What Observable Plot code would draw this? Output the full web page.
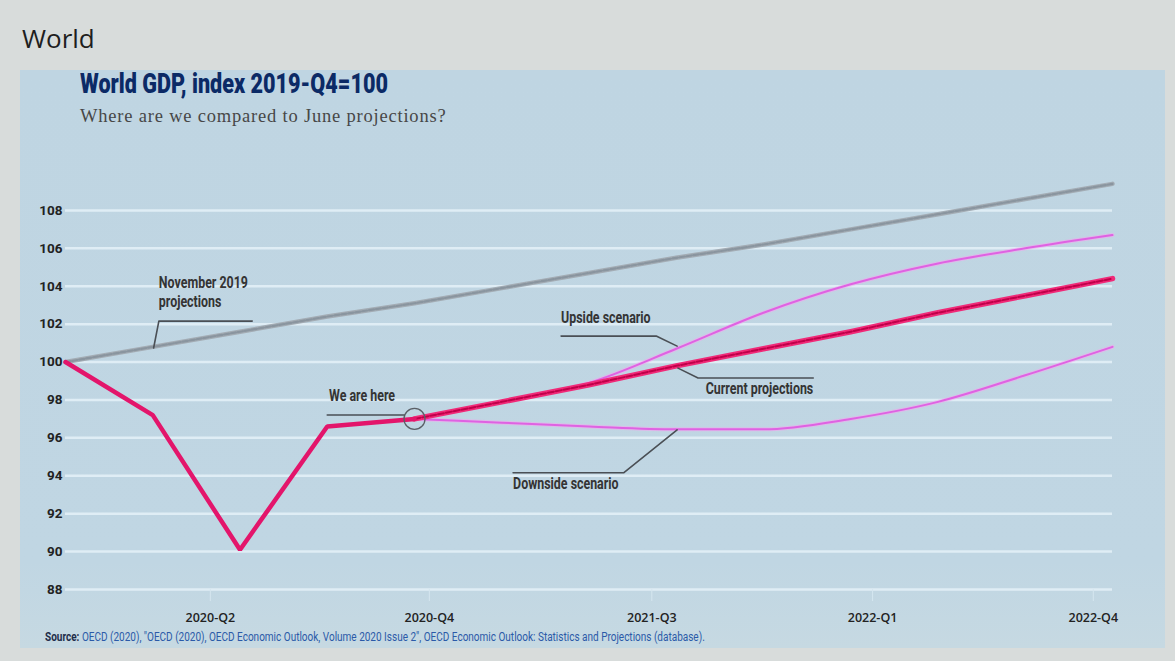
<!DOCTYPE html>
<html><head><meta charset="utf-8">
<script src="https://cdn.jsdelivr.net/npm/d3@7"></script>
<script src="https://cdn.jsdelivr.net/npm/@observablehq/plot@0.6"></script>
<style>
body{margin:0;width:1175px;height:661px;background:#d8dcdb;position:relative;overflow:hidden;font-family:"Open Sans","Noto Sans",sans-serif;}
#world{position:absolute;left:22px;top:20px;font-size:26px;color:#1e1e1e;}
#panel{position:absolute;left:20px;top:70px;width:1145px;height:578px;background:linear-gradient(#bfd5e2 0%,#c0d6e3 85%,#c6d9e2 100%);}
#title{position:absolute;left:80px;top:68px;font-family:"Roboto",sans-serif;font-weight:900;font-size:27px;color:#0b2a66;transform:scaleX(0.8);transform-origin:left center;white-space:nowrap;}
#subtitle{position:absolute;left:80px;top:106px;font-family:"Liberation Serif","DejaVu Serif",serif;font-size:18.5px;letter-spacing:0.8px;color:#474747;white-space:nowrap;}
#chart{position:absolute;left:0;top:150px;}
#source{position:absolute;left:45px;top:629px;font-family:"Roboto",sans-serif;font-size:12.5px;color:#2b5aa8;transform:scaleX(0.8);transform-origin:left center;white-space:nowrap;}
#source b{color:#1e2d4a;font-weight:700;}
</style></head>
<body>
<div id="world">World</div>
<div id="panel"></div>
<div id="title">World GDP, index 2019-Q4=100</div>
<div id="subtitle">Where are we compared to June projections?</div>
<div id="chart"></div>
<div id="source"><b>Source:</b> OECD (2020), "OECD (2020), OECD Economic Outlook, Volume 2020 Issue 2", OECD Economic Outlook: Statistics and Projections (database).</div>
<script>
// Quarters on the x axis (index 0 = 2019-Q4)
const quarters = ["2019-Q4","2020-Q1","2020-Q2","2020-Q3","2020-Q4","2021-Q1","2021-Q2","2021-Q3","2021-Q4","2022-Q1","2022-Q2","2022-Q3","2022-Q4"];
// Observed GDP index
const actualValues = [100, 97.2, 90.1, 96.6, 97.0];
// November 2019 projections (full span)
const nov2019Values = [100, 100.8, 101.6, 102.4, 103.1, 103.9, 104.7, 105.5, 106.2, 107.0, 107.8, 108.6, 109.4];
// Projections from 2020-Q4 onward
const projQuarters = quarters.slice(4);
const currentValues = [97.0, 97.9, 98.8, 99.8, 100.7, 101.6, 102.6, 103.5, 104.4];
const upsideValues = [97.0, 97.9, 98.9, 100.7, 102.6, 104.1, 105.2, 106.0, 106.7];
const downsideValues = [97.0, 96.8, 96.6, 96.45, 96.45, 97.0, 97.9, 99.3, 100.8];
// Axis ticks
const yTicks = [88, 90, 92, 94, 96, 98, 100, 102, 104, 106, 108];
const xTickPos = [1.66, 4.17, 6.72, 9.25, 11.78];
const xTickLabels = ["2020-Q2", "2020-Q4", "2021-Q3", "2022-Q1", "2022-Q4"];
// Annotations (data units: quarter index, index value)
const noteLabels = ["November 2019\nprojections", "We are here", "Upside scenario", "Current projections", "Downside scenario"];
const noteAnchors = [[1.07, 102.16], [3.02, 97.21], [5.68, 101.37], [8.57, 99.16], [5.13, 94.16]];
const leaders = [
  [[1.01, 100.74], [1.07, 102.16], [2.14, 102.16]],
  [[3.0, 97.21], [3.88, 97.21]],
  [[5.68, 101.37], [6.77, 101.37], [7.01, 100.84]],
  [[7.02, 99.68], [7.25, 99.16], [8.57, 99.16]],
  [[7.01, 96.42], [6.40, 94.16], [5.13, 94.16]]
];
const hereQuarter = "2020-Q4";

const qi = q => quarters.indexOf(q);
const series = (qs, vs) => qs.map((q, k) => ({i: qi(q), v: vs[k]}));
const actual = series(quarters.slice(0, actualValues.length), actualValues);
const nov = series(quarters, nov2019Values);
const cur = series(projQuarters, currentValues);
const up = series(projQuarters, upsideValues);
const down = series(projQuarters, downsideValues);
const leaderPts = leaders.flatMap((pts, g) => pts.map(([x, y]) => ({g, x, y})));
const notes = noteLabels.map((t, k) => ({t, x: noteAnchors[k][0], y: noteAnchors[k][1], k}));
const narrow = '"Roboto",sans-serif';
const noteFont = {fontFamily: narrow, fontWeight: 700, fontSize: 17, fill: "#343434", lineHeight: 1.15, lineAnchor: "bottom"};
const noteDy = [-14, -14, -13, 16, 16];
const noteAnchor = ["start", "start", "start", "end", "start"];

const chart = Plot.plot({
  width: 1175, height: 480,
  marginLeft: 65, marginRight: 63, marginTop: 22, marginBottom: 41,
  style: {background: "transparent", fontFamily: narrow, overflow: "visible"},
  x: {domain: [0, 12]},
  y: {domain: [88, 110]},
  marks: [
    Plot.gridY(yTicks, {stroke: "#dfedf5", strokeOpacity: 1, strokeWidth: 2.5}),
    Plot.axisY(yTicks, {tickSize: 0, tickPadding: 3, fontSize: 13.5, fontWeight: 700, fill: "#222", fontFamily: narrow, label: null}),
    Plot.axisX(xTickPos, {tickFormat: (d, i) => xTickLabels[i], tickSize: 12, stroke: "#d5e6ef", tickPadding: 12, fontSize: 12.5, fontWeight: 600, fill: "#222", fontFamily: '"Open Sans","Noto Sans",sans-serif', label: null}),
    // November 2019 projections
    Plot.line(nov, {x: "i", y: "v", stroke: "#a3acb4", strokeWidth: 4.5}),
    Plot.line(nov, {x: "i", y: "v", stroke: "#8a959f", strokeWidth: 2.2, strokeDasharray: "5,2"}),
    // Scenarios
    Plot.line(down, {x: "i", y: "v", stroke: "#f0a8ee", strokeWidth: 4, strokeOpacity: 0.6, curve: "monotone-x"}),
    Plot.line(down, {x: "i", y: "v", stroke: "#df62e2", strokeWidth: 2, curve: "monotone-x"}),
    Plot.line(up, {x: "i", y: "v", stroke: "#f0a8ee", strokeWidth: 4, strokeOpacity: 0.6, curve: "monotone-x"}),
    Plot.line(up, {x: "i", y: "v", stroke: "#df62e2", strokeWidth: 2, curve: "monotone-x"}),
    // Current projections
    Plot.line(cur, {x: "i", y: "v", stroke: "#f02a78", strokeWidth: 5.5}),
    Plot.line(cur, {x: "i", y: "v", stroke: "#c0004a", strokeWidth: 2, strokeDasharray: "6,2"}),
    // Actual
    Plot.line(actual, {x: "i", y: "v", stroke: "#e3156b", strokeWidth: 4.5, strokeLinejoin: "miter"}),
    // We are here circle
    Plot.dot([{i: qi(hereQuarter), v: actualValues[actualValues.length - 1]}], {x: "i", y: "v", r: 10.5, stroke: "#5a5f66", strokeWidth: 1.3, fill: "none"}),
    // Leader lines
    Plot.line(leaderPts, {x: "x", y: "y", z: "g", stroke: "#4a4f55", strokeWidth: 1.6, curve: "linear"}),
    // Annotation texts
    ...notes.map(d => Plot.text([d], {x: "x", y: "y", text: "t", textAnchor: noteAnchor[d.k], dy: noteDy[d.k], ...noteFont}))
  ]
});
// condense annotation lettering (the original uses a condensed typeface)
chart.querySelectorAll('g[aria-label="text"] > text').forEach(t => {
  const tr = t.getAttribute("transform");
  if (tr) t.setAttribute("transform", tr + " scale(0.73,1)");
  else {
    const x = +t.getAttribute("x") || 0, y = +t.getAttribute("y") || 0;
    t.setAttribute("transform", `translate(${x},${y}) scale(0.73,1) translate(${-x},${-y})`);
  }
});
document.getElementById("chart").appendChild(chart);
</script>
</body></html>
